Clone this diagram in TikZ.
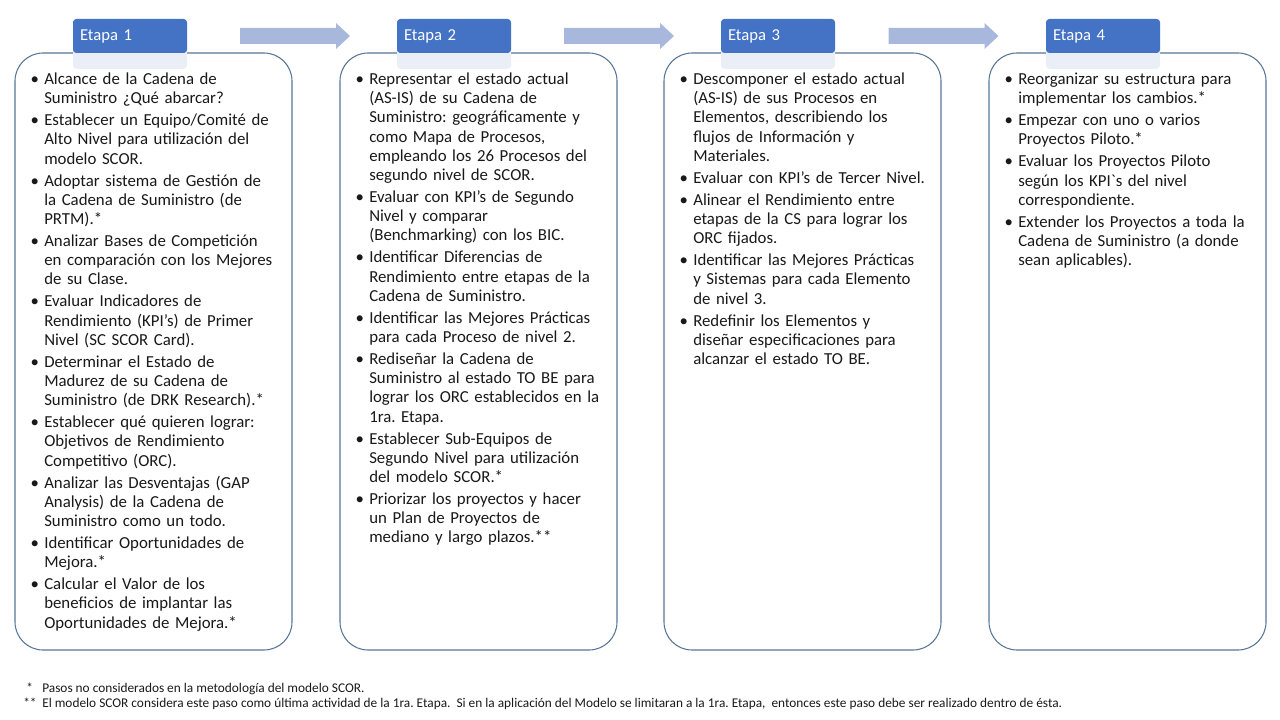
\documentclass[tikz,border=0pt]{standalone}
\usepackage{fontspec}
\setmainfont{Carlito}
\usepackage{enumitem}
\usetikzlibrary{positioning,calc}
\definecolor{tabblue}{RGB}{68,114,196}
\definecolor{tablight}{RGB}{233,238,247}
\definecolor{boxline}{RGB}{88,118,150}
\definecolor{arrowblue}{RGB}{168,184,220}
\definecolor{txt}{RGB}{25,25,25}
\setlist[itemize]{label=\textbullet,leftmargin=9pt,labelsep=4pt,itemsep=2.1pt,parsep=0pt,topsep=0pt,partopsep=0pt}
\frenchspacing

\begin{document}
\begin{tikzpicture}[x=0.75pt,y=-0.75pt,every node/.style={font=\fontsize{12.6}{14.4}\selectfont,text=txt},
  stagebox/.style={draw=boxline,line width=.8pt,rounded corners=21pt,minimum width=207.75pt,minimum height=447.75pt,fill=white},
  tabfoot/.style={fill=tablight,rounded corners=3pt,minimum width=85.5pt,minimum height=37.5pt,inner sep=0pt},
  tabtop/.style={fill=tabblue,rounded corners=2.5pt,minimum width=85.5pt,minimum height=25.5pt,text width=75pt,inner xsep=5.25pt,inner ysep=0pt,align=left,text=white,font=\fontsize{12.5}{14}\selectfont},
  stagetext/.style={anchor=north west,inner sep=0pt,text width=190pt},
  note/.style={anchor=base west,inner sep=0pt,font=\fontsize{10}{12}\selectfont}]
\useasboundingbox (0,0) rectangle (1280,720);
% boxes
\node[stagebox] (box1) at (153.5,351.5) {};
\node[stagebox] (box2) at (478.5,351.5) {};
\node[stagebox] (box3) at (802.5,351.5) {};
\node[stagebox] (box4) at (1127.5,351.5) {};
% tabs
\node[tabfoot] (foot1) at (130,44) {};
\node[tabfoot] (foot2) at (454,44) {};
\node[tabfoot] (foot3) at (778,44) {};
\node[tabfoot] (foot4) at (1103,44) {};
\node[tabtop] (tab1) at (130,36) {Etapa 1};
\node[tabtop] (tab2) at (454,36) {Etapa 2};
\node[tabtop] (tab3) at (778,36) {Etapa 3};
\node[tabtop] (tab4) at (1103,36) {Etapa 4};
% arrows
\coordinate (arr1) at ($(tab1.east)!.5!(tab2.west)$);
\coordinate (arr2) at ($(tab2.east)!.5!(tab3.west)$);
\coordinate (arr3) at ($(tab3.east)!.5!(tab4.west)$);
\fill[arrowblue] ($(arr1)+(-52,-8)$) -- ++(96,0) -- ++(0,-5) -- ++(14,13) -- ++(-14,13) -- ++(0,-5) -- ++(-96,0) -- cycle;
\fill[arrowblue] ($(arr2)+(-52,-8)$) -- ++(96,0) -- ++(0,-5) -- ++(14,13) -- ++(-14,13) -- ++(0,-5) -- ++(-96,0) -- cycle;
\fill[arrowblue] ($(arr3)+(-52,-8)$) -- ++(96,0) -- ++(0,-5) -- ++(14,13) -- ++(-14,13) -- ++(0,-5) -- ++(-96,0) -- cycle;
% texts
\node[stagetext] (list1) at (32,65) {\raggedright
\begin{itemize}
\item Alcance de la Cadena de\\ Suministro ¿Qué abarcar?
\item Establecer un Equipo/Comité de\\ Alto Nivel para utilización del\\ modelo SCOR.
\item Adoptar sistema de Gestión de\\ la Cadena de Suministro (de\\ PRTM).*
\item Analizar Bases de Competición\\ en comparación con los Mejores\\ de su Clase.
\item Evaluar Indicadores de\\ Rendimiento (KPI’s) de Primer\\ Nivel (SC SCOR Card).
\item Determinar el Estado de\\ Madurez de su Cadena de\\ Suministro (de DRK Research).*
\item Establecer qué quieren lograr:\\ Objetivos de Rendimiento\\ Competitivo (ORC).
\item Analizar las Desventajas (GAP\\ Analysis) de la Cadena de\\ Suministro como un todo.
\item Identificar Oportunidades de\\ Mejora.*
\item Calcular el Valor de los\\ beneficios de implantar las\\ Oportunidades de Mejora.*
\end{itemize}};
\node[stagetext] (list2) at (357,65) {\raggedright
\begin{itemize}
\item Representar el estado actual\\ (AS-IS) de su Cadena de\\ Suministro: geográficamente y\\ como Mapa de Procesos,\\ empleando los 26 Procesos del\\ segundo nivel de SCOR.
\item Evaluar con KPI’s de Segundo\\ Nivel y comparar\\ (Benchmarking) con los BIC.
\item Identificar Diferencias de\\ Rendimiento entre etapas de la\\ Cadena de Suministro.
\item Identificar las Mejores Prácticas\\ para cada Proceso de nivel 2.
\item Rediseñar la Cadena de\\ Suministro al estado TO BE para\\ lograr los ORC establecidos en la\\ 1ra. Etapa.
\item Establecer Sub-Equipos de\\ Segundo Nivel para utilización\\ del modelo SCOR.*
\item Priorizar los proyectos y hacer\\ un Plan de Proyectos de\\ mediano y largo plazos.**
\end{itemize}};
\node[stagetext] (list3) at (681,65) {\raggedright
\begin{itemize}
\item Descomponer el estado actual\\ (AS-IS) de sus Procesos en\\ Elementos, describiendo los\\ flujos de Información y\\ Materiales.
\item Evaluar con KPI’s de Tercer Nivel.
\item Alinear el Rendimiento entre\\ etapas de la CS para lograr los\\ ORC fijados.
\item Identificar las Mejores Prácticas\\ y Sistemas para cada Elemento\\ de nivel 3.
\item Redefinir los Elementos y\\ diseñar especificaciones para\\ alcanzar el estado TO BE.
\end{itemize}};
\node[stagetext] (list4) at (1006,65) {\raggedright
\begin{itemize}
\item Reorganizar su estructura para\\ implementar los cambios.*
\item Empezar con uno o varios\\ Proyectos Piloto.*
\item Evaluar los Proyectos Piloto\\ según los KPI\textasciigrave s del nivel\\ correspondiente.
\item Extender los Proyectos a toda la\\ Cadena de Suministro (a donde\\ sean aplicables).
\end{itemize}};
% footnotes
\node[note] (mark1) at (26,692) {*};
\node[note] (mark2) at (23,707) {**};
\node[note] (note1) at (42,692) {Pasos no considerados en la metodología del modelo SCOR.};
\node[note] (note2) at (42,707) {El modelo SCOR considera este paso como última actividad de la 1ra. Etapa.\ \ Si en la aplicación del Modelo se limitaran a la 1ra. Etapa,\ \ entonces este paso debe ser realizado dentro de ésta.};
\end{tikzpicture}
\end{document}
